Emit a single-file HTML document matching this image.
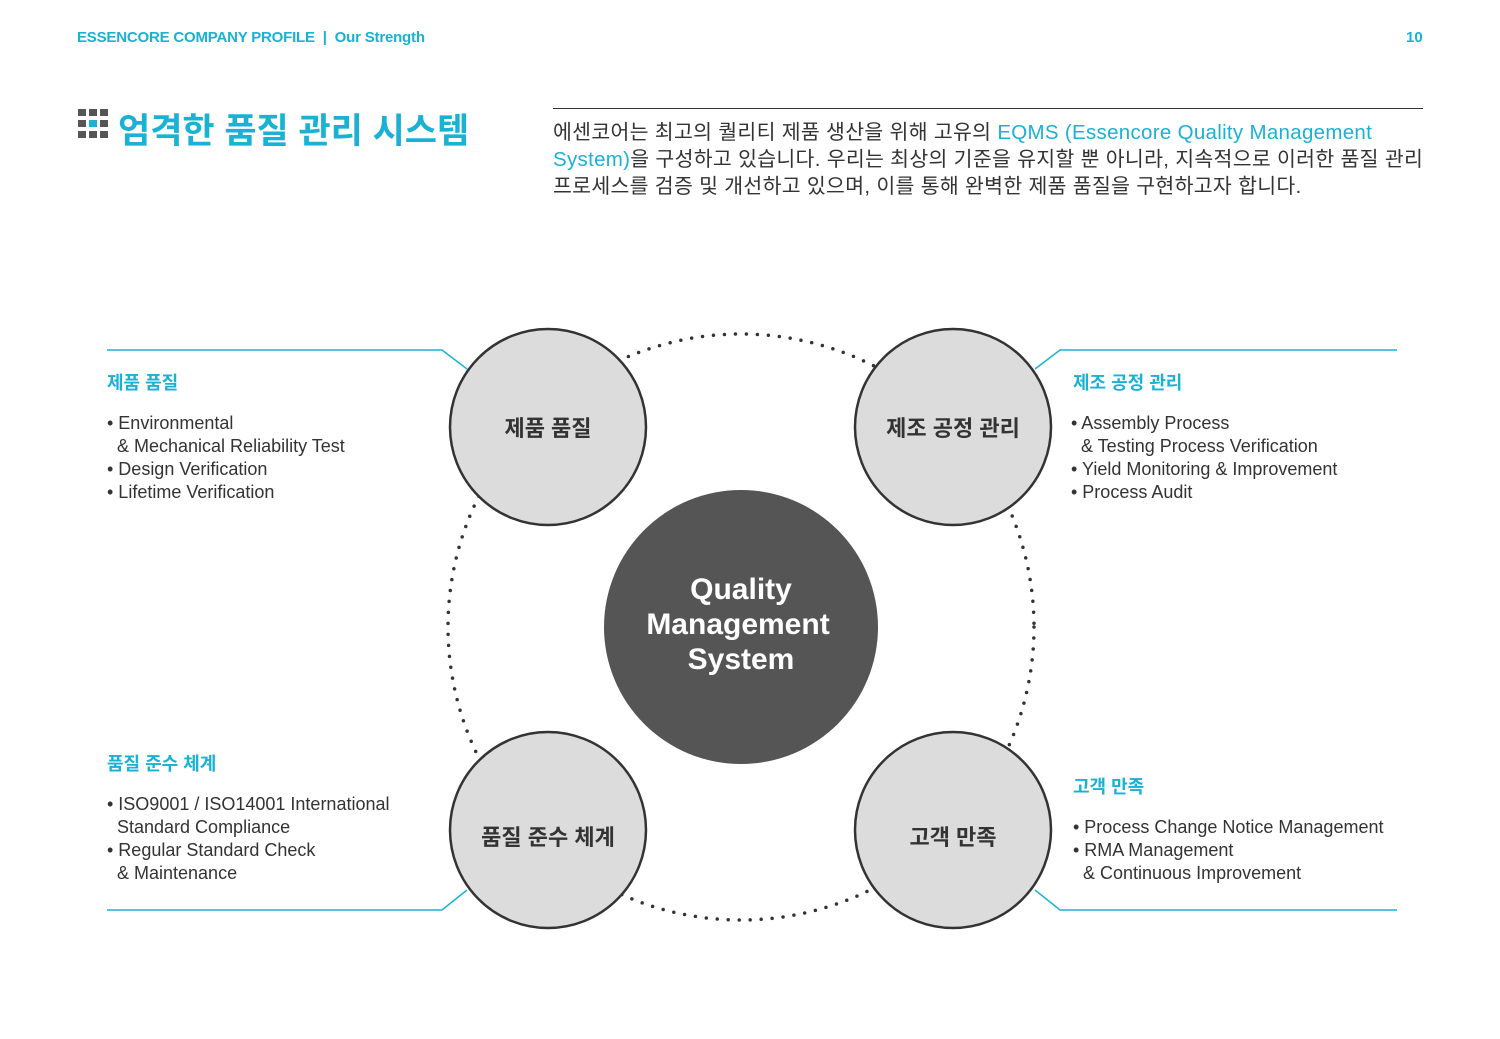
<!DOCTYPE html>
<html><head><meta charset="utf-8"><style>
body{margin:0;width:1500px;height:1039px;background:#fff;position:relative;font-family:"Liberation Sans","Noto Sans CJK KR",sans-serif;overflow:hidden}
.a{position:absolute;white-space:nowrap}
.c{color:#1ab2d4}
.t{color:#333;font-size:18px;line-height:23px}
.h{font-size:18px;font-weight:bold;color:#1ab2d4}
</style></head><body>
<div class="a c" style="left:77px;top:29px;font-size:15px;font-weight:bold;letter-spacing:-0.2px">ESSENCORE COMPANY PROFILE &nbsp;|&nbsp; Our Strength</div>
<div class="a c" style="left:1406px;top:29px;font-size:15px;font-weight:bold">10</div>
<svg class="a" style="left:78px;top:109px" width="30" height="30">
<g fill="#555"><rect x="0" y="0" width="8" height="7"/><rect x="11" y="0" width="8" height="7"/><rect x="22" y="0" width="8" height="7"/><rect x="0" y="11" width="8" height="7"/><rect x="22" y="11" width="8" height="7"/><rect x="0" y="22" width="8" height="7"/><rect x="11" y="22" width="8" height="7"/><rect x="22" y="22" width="8" height="7"/></g>
<rect x="11" y="11" width="8" height="7" fill="#1ab2d4"/></svg>
<div class="a c" style="left:118px;top:103px;font-size:35px;font-weight:bold">엄격한 품질 관리 시스템</div>
<div class="a" style="left:553px;top:108px;width:870px;border-top:1.5px solid #333"></div>
<div class="a" style="left:553px;top:119px;font-size:20.5px;line-height:27px;color:#333;letter-spacing:0.3px">에센코어는 최고의 퀄리티 제품 생산을 위해 고유의 <span class="c">EQMS (Essencore Quality Management</span><br><span class="c">System)</span>을 구성하고 있습니다. 우리는 최상의 기준을 유지할 뿐 아니라, 지속적으로 이러한 품질 관리<br>프로세스를 검증 및 개선하고 있으며, 이를 통해 완벽한 제품 품질을 구현하고자 합니다.</div>
<svg class="a" style="left:0;top:0" width="1500" height="1039">
<circle cx="741" cy="627" r="293" fill="none" stroke="#333" stroke-width="3.5" stroke-dasharray="0 11" stroke-linecap="round"/>
<g fill="none" stroke="#1ab2d4" stroke-width="1.5">
<polyline points="107,350 442,350 467,369"/>
<polyline points="1397,350 1060,350 1035,369"/>
<polyline points="107,910 442,910 467,890"/>
<polyline points="1397,910 1060,910 1035,890"/>
</g>
<g fill="#dcdcdc" stroke="#333" stroke-width="2.5">
<circle cx="548" cy="427" r="98"/><circle cx="953" cy="427" r="98"/>
<circle cx="548" cy="830" r="98"/><circle cx="953" cy="830" r="98"/>
</g>
<circle cx="741" cy="627" r="137" fill="#555"/>
<g font-family="Liberation Sans,Noto Sans CJK KR,sans-serif" font-weight="bold" font-size="22" fill="#333" text-anchor="middle">
<text x="548" y="436">제품 품질</text><text x="953" y="436">제조 공정 관리</text>
<text x="548" y="845">품질 준수 체계</text><text x="953" y="845">고객 만족</text>
</g>
<g font-family="Liberation Sans,sans-serif" font-weight="bold" font-size="30" fill="#fff" text-anchor="middle">
<text x="741" y="599">Quality</text><text x="738" y="634">Management</text><text x="741" y="669">System</text>
</g>
</svg>
<div class="a h" style="left:107px;top:369px">제품 품질</div>
<div class="a t" style="left:107px;top:412px">• Environmental<br>&nbsp;&nbsp;&amp; Mechanical Reliability Test<br>• Design Verification<br>• Lifetime Verification</div>
<div class="a h" style="left:1073px;top:369px">제조 공정 관리</div>
<div class="a t" style="left:1071px;top:412px">• Assembly Process<br>&nbsp;&nbsp;&amp; Testing Process Verification<br>• Yield Monitoring &amp; Improvement<br>• Process Audit</div>
<div class="a h" style="left:107px;top:750px">품질 준수 체계</div>
<div class="a t" style="left:107px;top:793px">• ISO9001 / ISO14001 International<br>&nbsp;&nbsp;Standard Compliance<br>• Regular Standard Check<br>&nbsp;&nbsp;&amp; Maintenance</div>
<div class="a h" style="left:1073px;top:773px">고객 만족</div>
<div class="a t" style="left:1073px;top:816px">• Process Change Notice Management<br>• RMA Management<br>&nbsp;&nbsp;&amp; Continuous Improvement</div>
</body></html>
